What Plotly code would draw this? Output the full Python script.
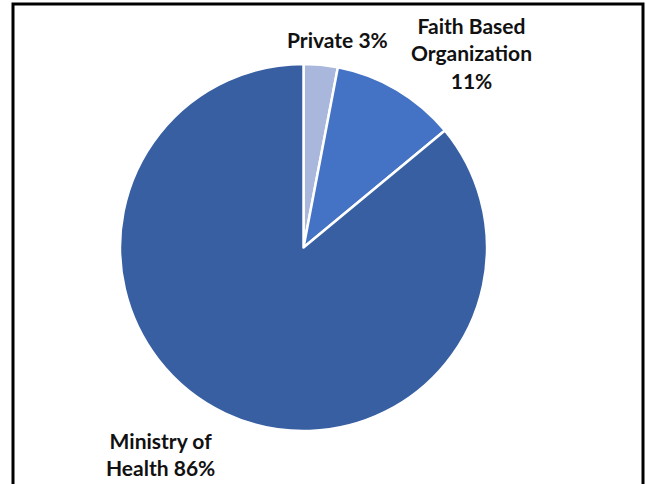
import plotly.graph_objects as go

labels = ["Private", "Faith Based Organization", "Ministry of Health"]
values = [3, 11, 86]
colors = ["#A9B7DD", "#4472C4", "#375FA2"]

W, H = 646, 484
fig = go.Figure(go.Pie(
    labels=labels, values=values, sort=False, direction="clockwise", rotation=0,
    marker=dict(colors=colors, line=dict(color="white", width=2.5)),
    textinfo="none", hoverinfo="skip", showlegend=False,
    domain=dict(x=[120 / W, 487 / W], y=[1 - 431 / H, 1 - 64 / H]),
))

font = dict(family="Lato, Open Sans, sans-serif", size=21, color="#111111")
ann = [
    (f"<b>{labels[0]} {values[0]}%</b>", 337, 40),
    (f"<b>Faith Based<br>Organization<br>{values[1]}%</b>", 471, 53),
    (f"<b>Ministry of<br>Health {values[2]}%</b>", 160, 454),
]
for t, x, y in ann:
    fig.add_annotation(text=t, x=x / W, y=1 - y / H, xref="paper", yref="paper",
                       showarrow=False, font=font, align="center",
                       xanchor="center", yanchor="middle")

fig.add_shape(type="rect", xref="paper", yref="paper",
              x0=13 / W, x1=643 / W, y0=-0.1, y1=1 - 4 / H,
              line=dict(color="black", width=3))

fig.update_layout(width=W, height=H, margin=dict(l=0, r=0, t=0, b=0),
                  paper_bgcolor="white", plot_bgcolor="white")
fig.write_html("out.html", config={"displayModeBar": False},
               post_script="document.body.style.margin='0';document.body.style.overflow='hidden';")
